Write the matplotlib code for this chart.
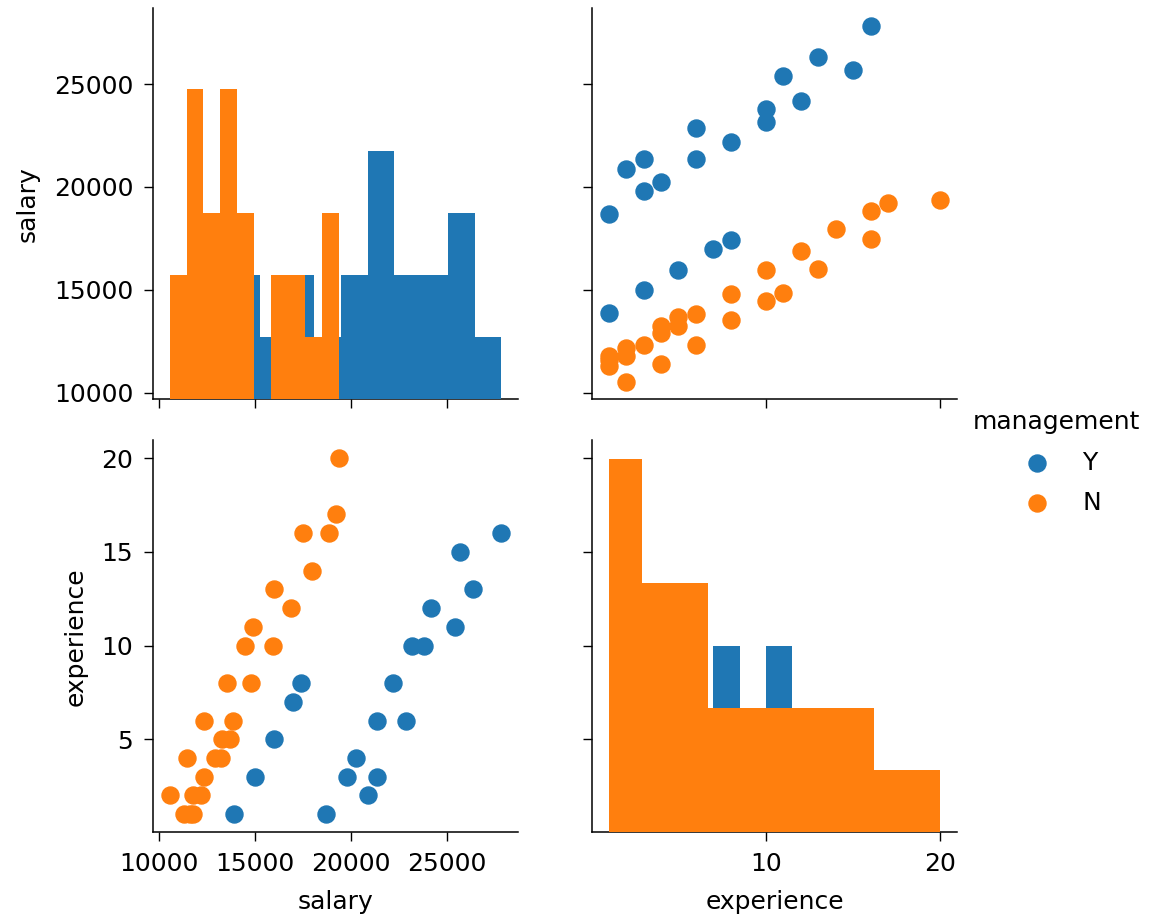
import matplotlib
matplotlib.use("Agg")
import matplotlib.pyplot as plt
import numpy as np

# salary survey data: salary, years of experience, management position
salary = [13876, 11608, 18701, 11283, 11767, 20872, 11772, 10535, 12195, 12313,
          14975, 21371, 19800, 11417, 20263, 13231, 12884, 13245, 13677, 15965,
          12336, 21352, 13839, 22884, 16978, 14803, 17404, 22184, 13548, 14467,
          15942, 23174, 23780, 25410, 14861, 16882, 24170, 15990, 26330, 17949,
          25685, 27837, 18838, 17483, 19207, 19346]
experience = [1, 1, 1, 1, 1, 2, 2, 2, 2, 3,
              3, 3, 3, 4, 4, 4, 4, 5, 5, 5,
              6, 6, 6, 6, 7, 8, 8, 8, 8, 10,
              10, 10, 10, 11, 11, 12, 12, 13, 13, 14,
              15, 16, 16, 16, 17, 20]
management = ['Y', 'N', 'Y', 'N', 'N', 'Y', 'N', 'N', 'N', 'N',
              'Y', 'Y', 'Y', 'N', 'Y', 'N', 'N', 'N', 'N', 'Y',
              'N', 'Y', 'N', 'Y', 'Y', 'N', 'Y', 'Y', 'N', 'N',
              'N', 'Y', 'Y', 'Y', 'N', 'N', 'Y', 'N', 'Y', 'N',
              'Y', 'Y', 'N', 'N', 'N', 'N']

variables = ['salary', 'experience']
hue_order = ['Y', 'N']
colors = ['#1f77b4', '#ff7f0e']

plt.rcParams.update({
    'font.size': 18,
    'axes.linewidth': 1.1,
    'xtick.major.size': 6.3,
    'ytick.major.size': 6.3,
    'xtick.major.width': 1.0,
    'ytick.major.width': 1.0,
    'xtick.major.pad': 8,
    'ytick.major.pad': 8,
    'axes.labelpad': 10,
})

data = {'salary': np.array(salary), 'experience': np.array(experience)}
mgmt = np.array(management)

fig, axes = plt.subplots(2, 2, sharex='col', sharey='row', figsize=(11.55, 9.17), dpi=100)
fig.subplots_adjust(left=0.1325, right=0.8286, top=0.9913, bottom=0.0927,
                    wspace=0.2027, hspace=0.1047)

# off-diagonal scatter plots
for i, yvar in enumerate(variables):
    for j, xvar in enumerate(variables):
        if i == j:
            continue
        for level, color in zip(hue_order, colors):
            m = mgmt == level
            axes[i, j].scatter(data[xvar][m], data[yvar][m], s=150, color=color,
                               linewidths=1, label=level)

# diagonal histograms on hidden twin axes (shared count scale)
diag_axes = []
for i, var in enumerate(variables):
    dax = axes[i, i].twinx()
    dax.set_axis_off()
    if diag_axes:
        dax.sharey(diag_axes[0])
    for level, color in zip(hue_order, colors):
        dax.hist(data[var][mgmt == level], bins=10, color=color)
    diag_axes.append(dax)

for ax in axes.flat:
    ax.spines[['top', 'right']].set_visible(False)

axes[1, 1].set_xticks([10, 20])
axes[1, 0].set_xticks([10000, 15000, 20000, 25000])
axes[0, 0].set_yticks([10000, 15000, 20000, 25000])
axes[1, 0].set_yticks([5, 10, 15, 20])

axes[0, 0].set_ylabel('salary')
axes[1, 0].set_ylabel('experience')
axes[1, 0].set_xlabel('salary')
axes[1, 1].set_xlabel('experience')

handles, labels = axes[0, 1].get_legend_handles_labels()
fig.legend(handles, labels, title='management', loc='upper left',
           bbox_to_anchor=(0.823, 0.577), frameon=False, labelspacing=0.65)

fig.savefig('out.png', dpi=100)
